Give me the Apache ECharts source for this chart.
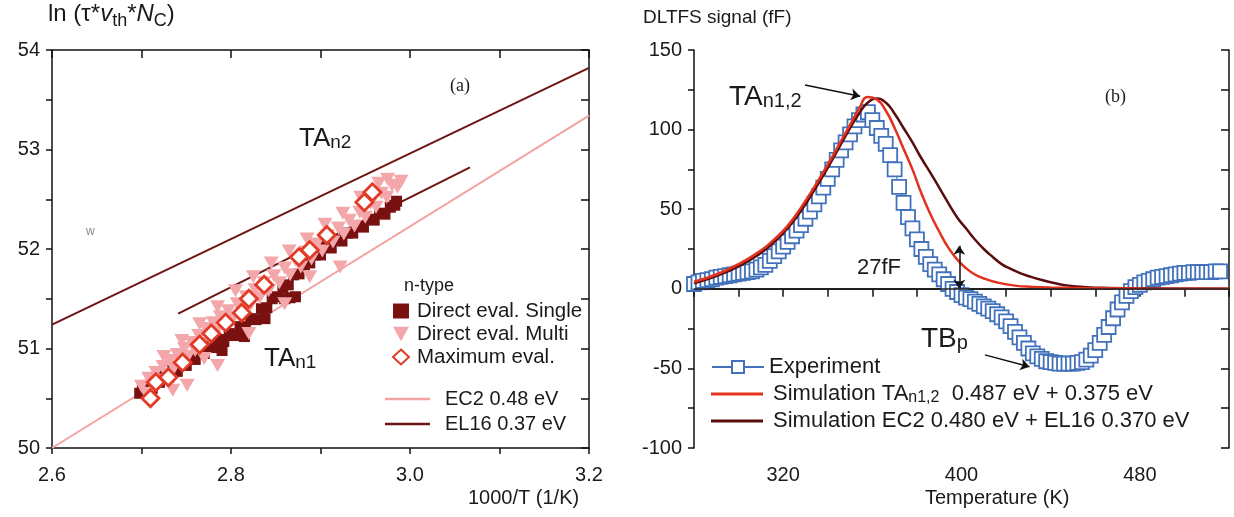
<!DOCTYPE html>
<html>
<head>
<meta charset="utf-8">
<script src="https://cdn.jsdelivr.net/npm/echarts@6/dist/echarts.min.js"></script>
<style>
  html, body { margin: 0; padding: 0; background: #fff; }
  #chart { width: 1234px; height: 517px; }
</style>
</head>
<body>
<div id="chart"></div>
<script>
// ---- panel (a): Arrhenius plot ----
const arrTicks = [2.6, 2.8, 3.0, 3.2]
const ec2Line = [[2.6, 50.0], [3.2, 53.34]]
const el16Line = [[2.6, 51.24], [3.2, 53.82]]
const shortFit = [[2.741, 51.35], [3.067, 52.82]]

const directSingle = [
  [2.698, 50.55], [2.701, 50.60], [2.704, 50.56], [2.708, 50.63], [2.712, 50.60], [2.716, 50.68],
  [2.720, 50.66], [2.725, 50.73], [2.730, 50.71], [2.735, 50.79], [2.740, 50.77], [2.745, 50.85],
  [2.750, 50.83], [2.755, 50.91], [2.760, 50.89], [2.765, 50.97], [2.770, 50.95], [2.775, 51.03],
  [2.780, 51.01], [2.786, 51.09], [2.792, 51.07], [2.798, 51.15], [2.804, 51.13], [2.810, 51.22],
  [2.816, 51.21], [2.822, 51.30], [2.828, 51.29], [2.834, 51.40], [2.840, 51.41], [2.846, 51.50],
  [2.852, 51.52], [2.858, 51.61], [2.864, 51.64], [2.870, 51.74], [2.876, 51.75], [2.882, 51.84],
  [2.888, 51.86], [2.894, 51.94], [2.900, 51.94], [2.906, 52.02], [2.912, 52.01], [2.918, 52.09],
  [2.924, 52.08], [2.930, 52.16], [2.936, 52.16], [2.942, 52.23], [2.948, 52.22], [2.954, 52.30],
  [2.960, 52.29], [2.966, 52.36], [2.972, 52.35], [2.978, 52.42], [2.983, 52.44], [2.985, 52.48],
  [2.860, 51.50], [2.866, 51.51], [2.872, 51.52], [2.838, 51.30], [2.815, 51.12], [2.790, 50.98]
]
const directMulti = [
  [2.700, 50.62], [2.705, 50.55], [2.708, 50.70], [2.713, 50.62], [2.716, 50.76], [2.720, 50.68],
  [2.724, 50.82], [2.728, 50.74], [2.732, 50.88], [2.736, 50.80], [2.740, 50.94], [2.744, 50.86],
  [2.748, 51.00], [2.752, 50.92], [2.756, 51.06], [2.760, 50.98], [2.764, 51.13], [2.768, 51.05],
  [2.772, 51.20], [2.776, 51.11], [2.780, 51.26], [2.784, 51.17], [2.788, 51.32], [2.792, 51.23],
  [2.797, 51.38], [2.802, 51.30], [2.807, 51.45], [2.812, 51.37], [2.817, 51.52], [2.822, 51.44],
  [2.827, 51.59], [2.832, 51.51], [2.837, 51.66], [2.842, 51.58], [2.848, 51.73], [2.854, 51.66],
  [2.860, 51.81], [2.866, 51.74], [2.872, 51.89], [2.878, 51.82], [2.884, 51.97], [2.890, 51.90],
  [2.896, 52.05], [2.902, 51.98], [2.908, 52.13], [2.914, 52.07], [2.920, 52.21], [2.926, 52.15],
  [2.932, 52.29], [2.938, 52.23], [2.944, 52.37], [2.950, 52.32], [2.956, 52.46], [2.962, 52.42],
  [2.968, 52.56], [2.974, 52.52], [2.980, 52.64], [2.986, 52.62], [2.990, 52.68],
  [2.751, 50.63], [2.785, 50.83], [2.888, 51.72], [2.922, 51.82], [2.770, 50.90], [2.735, 50.58],
  [2.820, 51.15], [2.860, 51.45],
  [2.725, 50.92], [2.745, 51.08], [2.765, 51.25], [2.785, 51.42], [2.805, 51.58], [2.825, 51.72],
  [2.845, 51.86], [2.865, 51.98], [2.885, 52.10], [2.905, 52.25], [2.925, 52.36], [2.945, 52.52],
  [2.965, 52.66], [2.975, 52.70]
]
const maximumEval = [
  [2.710, 50.50], [2.716, 50.66], [2.730, 50.71], [2.746, 50.86], [2.765, 51.04], [2.778, 51.15],
  [2.794, 51.26], [2.812, 51.36], [2.820, 51.50], [2.837, 51.64], [2.876, 51.92], [2.888, 51.99],
  [2.907, 52.14], [2.949, 52.47], [2.958, 52.57]
]

// ---- panel (b): DLTFS spectra ----
const tempTicks = [320, 400, 480]
const expT = [
  280, 282, 284, 286, 288, 290, 292, 294, 296, 298, 300, 302, 304, 306, 308, 310, 312, 314, 316, 318,
  320, 322, 324, 326, 328, 330, 332, 334, 336, 338, 340, 342, 344, 346, 348, 350, 352, 354, 356, 358,
  360, 362, 364, 366, 368, 370, 372, 374, 376, 378, 380, 382, 384, 386, 388, 390, 392, 394, 396, 398,
  400, 402, 404, 406, 408, 410, 412, 414, 416, 418, 420, 422, 424, 426, 428, 430, 432, 434, 436, 438,
  440, 442, 444, 446, 448, 450, 452, 454, 456, 458, 460, 462, 464, 466, 468, 470, 472, 474, 476, 478,
  480, 482, 484, 486, 488, 490, 492, 494, 496, 498, 500, 502, 504, 506, 508, 510, 512, 514, 516
]
const expV = [
  3, 4, 5, 5.5, 6, 7, 7.5, 8, 8.5, 9, 9.5, 10, 10.5, 11, 12, 13.5, 15, 17.5, 20.5, 23.5,
  26.5, 29.5, 33, 36.5, 40, 44, 48.5, 53, 58, 63.5, 69, 75, 81, 87, 92, 97, 102, 106, 109.5, 111,
  106, 101, 96, 91, 84, 75, 64, 54, 45, 38, 31, 25, 20, 15.5, 12, 9, 6, 3, 0, -2,
  -4, -5.5, -6.5, -8, -9.5, -11, -12.5, -14, -16, -18, -20.5, -23.5, -27, -30.5, -34, -37.5, -40.5, -42.5, -44, -45.5,
  -46, -46.5, -47, -47, -47, -47, -46.5, -46, -44.5, -42, -38.5, -34, -29, -24, -18.5, -13, -8.5, -4.5, -1.5, 1,
  2.5, 4, 5, 6, 7, 7.5, 8, 8.5, 9, 9.5, 10, 10, 10.5, 10.5, 10.5, 10.5, 10.5, 11, 11
]
const simTAT = [280, 290, 300, 310, 316, 322, 328, 334, 340, 346, 350, 354, 358, 362, 366, 370, 374, 378, 382, 386,
  390, 394, 398, 402, 406, 410, 416, 424, 432, 440, 460, 480, 520]
const simTAV = [4.4, 9, 15.5, 24, 31, 39.5, 51, 64, 78, 93, 103, 113, 120.5, 119, 112, 101, 88, 75, 60, 47,
  36, 26, 18.5, 13, 9, 6.5, 4, 2, 1.2, 0.8, 0.4, 0.2, 0]
const simEcT = [280, 290, 300, 310, 316, 322, 328, 334, 340, 346, 350, 354, 358, 362, 366, 370, 374, 378, 382, 386,
  390, 394, 398, 402, 406, 410, 414, 418, 422, 426, 430, 436, 442, 448, 456, 466, 480, 520]
const simEcV = [3.5, 8, 14, 22.5, 29.5, 38, 49, 62, 76, 91, 101, 110, 117, 119.5, 117, 110, 101, 92, 82, 73,
  63.5, 54, 45, 38, 31, 25, 20, 15.5, 12.5, 10, 8, 5.5, 3.5, 2, 1, 0.5, 0.2, 0]

const FONT = '"Liberation Sans", Arial, sans-serif'
const ink = '#1a1a1a'
const C = {
  el16: '#6e1414',
  ec2: '#f2a3a3',
  single: '#7a1111',
  multi: '#f4a7aa',
  diamond: '#e23a26',
  exp: '#4272bb',
  simTA: '#e2321e',
  simEc: '#5a0d0d'
}

const zip = (a, b) => a.map((v, i) => [v, b[i]])

function boxAxes(grid, min, max, interval, fmt, isX, margin) {
  const line = { show: true, lineStyle: { color: '#111', width: 1.5 } }
  const main = {
    type: 'value', gridIndex: grid, min, max, interval,
    position: isX ? 'bottom' : 'left',
    axisLine: line,
    axisTick: { show: true, inside: false, length: 6, lineStyle: { color: '#111', width: 1.5 } },
    axisLabel: { formatter: fmt, fontSize: 20, color: ink, fontFamily: FONT, margin },
    splitLine: { show: false }
  }
  const mirror = {
    type: 'value', gridIndex: grid, min, max, interval,
    position: isX ? 'top' : 'right',
    axisLine: line,
    axisTick: { show: true, inside: true, length: 8, lineStyle: { color: '#111', width: 1.5 } },
    axisLabel: { show: false },
    splitLine: { show: false }
  }
  return [main, mirror]
}

const xAxes = [
  ...boxAxes(0, 2.6, 3.2, 0.1, v => {
    const k = Math.round(v * 10)
    return arrTicks.indexOf(k / 10) >= 0 ? (k / 10).toFixed(1) : ''
  }, true, 17),
  ...boxAxes(1, 280, 520, 20, v => (tempTicks.indexOf(v) >= 0 ? String(v) : ''), true, 17)
]
const yAxes = [
  ...boxAxes(0, 50, 54, 0.5, v => (Number.isInteger(v) ? String(v) : ''), false, 12),
  ...boxAxes(1, -100, 150, 25, v => (v % 50 === 0 ? String(v) : ''), false, 12)
]

const sub = (size) => ({ fontSize: size, lineHeight: size, verticalAlign: 'bottom', fontFamily: FONT, fill: ink, color: ink })

function label(left, top, text, size, rich) {
  return {
    type: 'text', left, top, z: 100,
    style: { text, fontSize: size, fontFamily: FONT, fill: ink, rich: rich || {} }
  }
}

const arrowLine = (a, b, both) => [
  { coord: a, symbol: both ? 'arrow' : 'none' },
  { coord: b, symbol: 'arrow' }
]

const legendText = (size) => ({ fontSize: size, lineHeight: size + 2, color: ink, fontFamily: FONT })

const option = {
  animation: false,
  backgroundColor: '#fff',
  grid: [
    { left: 52, top: 50, width: 537, height: 398 },
    { left: 694, top: 50, width: 535, height: 398 }
  ],
  xAxis: xAxes,
  yAxis: yAxes,
  legend: [
    {
      data: ['Direct eval. Single', 'Direct eval. Multi', 'Maximum eval.'],
      orient: 'vertical', left: 387, top: 295, itemWidth: 16, itemHeight: 15, itemGap: 1,
      selectedMode: false,
      textStyle: { ...legendText(20), fontSize: 20.5, padding: [0, 0, 0, 3] }
    },
    {
      data: ['EC2 0.48 eV', 'EL16 0.37 eV'],
      icon: 'rect', orient: 'vertical', left: 380, top: 383, itemWidth: 45, itemHeight: 2.5, itemGap: 3,
      selectedMode: false,
      textStyle: { ...legendText(20), padding: [0, 0, 0, 10] }
    },
    {
      data: ['Experiment'],
      orient: 'vertical', left: 706, top: 350, itemWidth: 52, itemHeight: 15,
      selectedMode: false,
      textStyle: legendText(22)
    },
    {
      data: ['Simulation TA', 'Simulation EC2'],
      icon: 'rect', orient: 'vertical', left: 706, top: 377, itemWidth: 52, itemHeight: 3, itemGap: 3,
      selectedMode: false,
      formatter: name => ({
        'Simulation TA': 'Simulation TA{s|n1,2}  0.487 eV + 0.375 eV',
        'Simulation EC2': 'Simulation EC2 0.480 eV + EL16 0.370 eV'
      }[name]),
      textStyle: {
        ...legendText(22), padding: [0, 0, 0, 5],
        rich: { s: { fontSize: 16, lineHeight: 16, color: ink, fontFamily: FONT, verticalAlign: 'bottom' } }
      }
    }
  ],
  graphic: [
    label(48, 2, 'ln (τ*{i|v}{s|th}*{i|N}{s|C})', 24, {
      i: { fontSize: 24, lineHeight: 32, fontFamily: FONT, fill: ink, fontStyle: 'italic' }, s: sub(18)
    }),
    label(468, 488, '1000/T (1/K)', 20),
    { type: 'text', left: 450, top: 77, z: 100,
      style: { text: '(a)', fontSize: 18, fontFamily: '"Liberation Serif", serif', fill: ink } },
    label(299, 126, 'TA{s|n2}', 26, { s: sub(19) }),
    label(264, 346, 'TA{s|n1}', 26, { s: sub(19) }),
    label(404, 277, 'n-type', 18),
    { type: 'text', left: 86, top: 226, z: 100,
      style: { text: 'w', fontSize: 12, fontFamily: FONT, fill: '#888' } },

    label(643, 8, 'DLTFS signal (fF)', 19),
    label(925, 488, 'Temperature (K)', 20),
    { type: 'text', left: 1105, top: 88, z: 100,
      style: { text: '(b)', fontSize: 18, fontFamily: '"Liberation Serif", serif', fill: ink } },
    label(729, 83, 'TA{s|n1,2}', 28, { s: sub(20) }),
    label(857, 257, '27fF', 22),
    label(921, 325, 'TB{s|p}', 28, { s: sub(20) })
  ],
  series: [
    {
      name: 'EC2 0.48 eV', type: 'line', xAxisIndex: 0, yAxisIndex: 0,
      data: ec2Line, symbol: 'none', lineStyle: { color: C.ec2, width: 2 }, itemStyle: { color: C.ec2 }, z: 1
    },
    {
      name: 'EL16 0.37 eV', type: 'line', xAxisIndex: 0, yAxisIndex: 0,
      data: el16Line, symbol: 'none', lineStyle: { color: C.el16, width: 2 }, itemStyle: { color: C.el16 }, z: 1
    },
    {
      name: 'fit', type: 'line', xAxisIndex: 0, yAxisIndex: 0,
      data: shortFit, symbol: 'none', lineStyle: { color: C.el16, width: 2 }, z: 1
    },
    {
      name: 'Direct eval. Single', type: 'scatter', xAxisIndex: 0, yAxisIndex: 0,
      data: directSingle, symbol: 'rect', symbolSize: 11, itemStyle: { color: C.single, opacity: 1 }, z: 2
    },
    {
      name: 'Direct eval. Multi', type: 'scatter', xAxisIndex: 0, yAxisIndex: 0,
      data: directMulti, symbol: 'path://M0,0L10,0L5,9Z', symbolSize: [15, 13],
      itemStyle: { color: C.multi, opacity: 1 }, z: 3
    },
    {
      name: 'Maximum eval.', type: 'scatter', xAxisIndex: 0, yAxisIndex: 0,
      data: maximumEval, symbol: 'diamond', symbolSize: 17,
      itemStyle: { color: '#fff', borderColor: C.diamond, borderWidth: 2.8, opacity: 1 }, z: 4
    },

    {
      name: 'Experiment', type: 'line', xAxisIndex: 2, yAxisIndex: 2,
      data: zip(expT, expV), symbol: 'rect', symbolSize: 14, showAllSymbol: true, clip: true,
      lineStyle: { color: C.exp, width: 1 },
      itemStyle: { color: '#fff', borderColor: C.exp, borderWidth: 1.8 }, z: 2
    },
    {
      name: 'Simulation TA', type: 'line', xAxisIndex: 2, yAxisIndex: 2,
      data: zip(simTAT, simTAV), smooth: true, symbol: 'none',
      lineStyle: { color: C.simTA, width: 2.5 }, itemStyle: { color: C.simTA }, z: 4,
      markLine: {
        silent: true, symbolSize: 9, label: { show: false },
        lineStyle: { color: '#111', width: 1.5, type: 'solid' },
        data: [
          arrowLine([329.8, 128], [354.5, 121]),
          arrowLine([399, 0], [399, 27], true),
          arrowLine([410.5, -41.5], [430.5, -49])
        ]
      }
    },
    {
      name: 'Simulation EC2', type: 'line', xAxisIndex: 2, yAxisIndex: 2,
      data: zip(simEcT, simEcV), smooth: true, symbol: 'none',
      lineStyle: { color: C.simEc, width: 2.5 }, itemStyle: { color: C.simEc }, z: 3,
      markLine: {
        silent: true, symbol: ['none', 'none'], label: { show: false },
        lineStyle: { color: '#222', width: 1.5, type: 'solid' },
        data: [{ yAxis: 0 }]
      }
    }
  ]
}

const chart = echarts.init(document.getElementById('chart'))
chart.setOption(option)
</script>
</body>
</html>
